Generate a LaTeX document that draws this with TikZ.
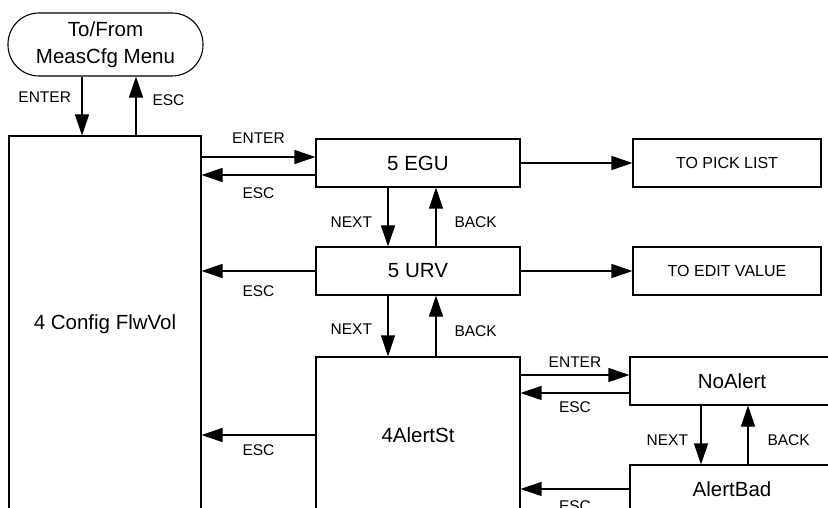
\documentclass[tikz,border=0pt]{standalone}
\usepackage{fontspec}
\setmainfont{Liberation Sans}
\usetikzlibrary{arrows.meta,positioning}

\begin{document}
\begin{tikzpicture}[x=1pt,y=-1pt,line width=1.1pt,
   box/.style={draw,minimum width=204pt,minimum height=48pt,inner sep=0pt,
               font=\fontsize{20.5}{24}\selectfont},
   tobox/.style={box,minimum width=188pt,font=\fontsize{16}{19}\selectfont},
   arr/.style={-{Triangle[length=21pt,width=14pt]}},
   lbl/.style={inner sep=0pt,font=\fontsize{15.5}{18}\selectfont}]
  \clip (0,0) rectangle (828,508);
  \node[draw,rounded corners=31pt,minimum width=195pt,minimum height=63pt,align=center,
        font=\fontsize{20.5}{27}\selectfont] (menu) at (105.5,44.5) {To/From\\MeasCfg Menu};
  \node[box,minimum width=192pt,minimum height=376pt] (cfg) at (105,324) {4 Config FlwVol};
  \node[box] (egu) at (418,163) {5 EGU};
  \node[box] (urv) at (418,271) {5 URV};
  \node[tobox] (pick) at (727,163) {TO PICK LIST};
  \node[tobox] (edit) at (727,271) {TO EDIT VALUE};
  \node[box,minimum height=156pt] (alert) at (418,435) {4AlertSt};
  \node[box] (noalert) at (732,381) {NoAlert};
  \node[box] (alertbad) at (732,489) {AlertBad};
  % menu <-> config
  \draw[arr] ([xshift=-23.5pt]menu.south) -- ([xshift=-23.5pt]menu.south |- cfg.north)
     node[lbl,pos=0.35,left=10.5pt] {ENTER};
  \draw[arr] ([xshift=30.5pt]menu.south |- cfg.north) -- ([xshift=30.5pt]menu.south)
     node[lbl,pos=0.6,right=16pt] {ESC};
  % config <-> items
  \draw[arr] ([yshift=6pt]egu.west -| cfg.east) -- ([yshift=6pt]egu.west)
     node[lbl,midway,above=13pt] {ENTER};
  \draw[arr] ([yshift=-12pt]egu.west) -- ([yshift=-12pt]egu.west -| cfg.east)
     node[lbl,midway,below=12.5pt] {ESC};
  \draw[arr] (urv.west) -- (urv.west -| cfg.east) node[lbl,midway,below=14.5pt] {ESC};
  \draw[arr] (alert.west) -- (alert.west -| cfg.east) node[lbl,midway,below=9.5pt] {ESC};
  \draw[arr] (egu) -- (pick);
  \draw[arr] (urv) -- (edit);
  % next / back
  \draw[arr] ([xshift=-30pt]egu.south) -- ([xshift=-30pt]urv.north)
     node[lbl,pos=0.58,left=15.4pt] {NEXT};
  \draw[arr] ([xshift=18pt]urv.north) -- ([xshift=18pt]egu.south)
     node[lbl,pos=0.42,right=18pt] {BACK};
  \draw[arr] ([xshift=-30pt]urv.south) -- ([xshift=-30pt]alert.north)
     node[lbl,pos=0.56,left=15.4pt] {NEXT};
  \draw[arr] ([xshift=18pt]alert.north) -- ([xshift=18pt]urv.south)
     node[lbl,pos=0.42,right=18pt] {BACK};
  % alert states
  \draw[arr] ([yshift=6pt]noalert.west -| alert.east) -- ([yshift=6pt]noalert.west)
     node[lbl,midway,above=6.5pt] {ENTER};
  \draw[arr] ([yshift=-12pt]noalert.west) -- ([yshift=-12pt]noalert.west -| alert.east)
     node[lbl,midway,below=8.5pt] {ESC};
  \draw[arr] ([xshift=-31pt]noalert.south) -- ([xshift=-31pt]alertbad.north)
     node[lbl,pos=0.58,left=12.4pt] {NEXT};
  \draw[arr] ([xshift=16pt]alertbad.north) -- ([xshift=16pt]noalert.south)
     node[lbl,pos=0.42,right=19pt] {BACK};
  \draw[arr] (alertbad.west) -- (alertbad.west -| alert.east) node[lbl,midway,below=11.5pt] {ESC};
\end{tikzpicture}
\end{document}
